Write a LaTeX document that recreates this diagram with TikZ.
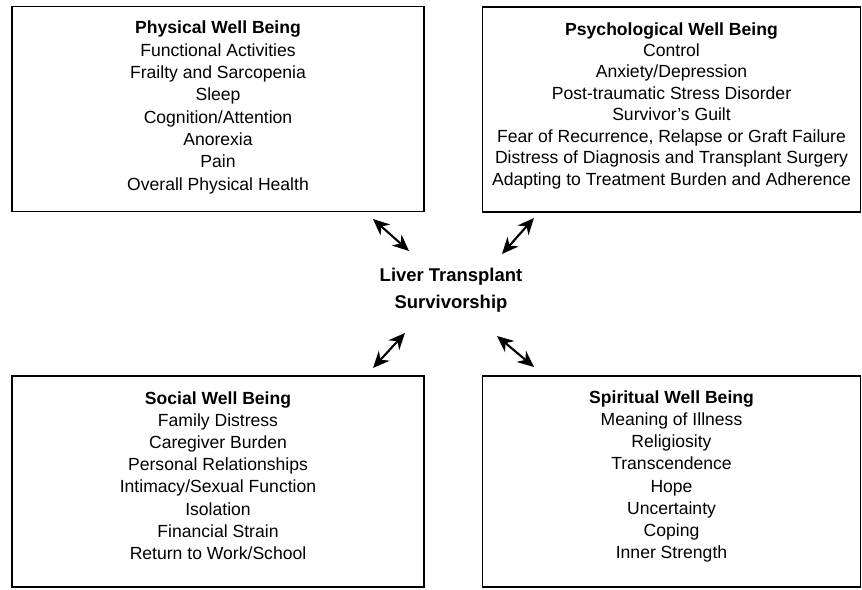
\documentclass[tikz,border=0pt]{standalone}
\usepackage{fontspec}
\setmainfont{Liberation Sans}
\usetikzlibrary{arrows.meta}

\begin{document}
\begin{tikzpicture}[
    domainbox/.style={draw, line width=0.8pt, inner sep=0pt},
    boxtext/.style={align=center, inner sep=0pt},
    hub/.style={align=center, font=\fontsize{10.5}{15.3}\selectfont\bfseries},
    link/.style={line width=1.2pt, {Stealth[length=3.3mm,width=2.9mm]}-{Stealth[length=3.3mm,width=2.9mm]}}
]
    % --- SETTINGS ---
    \def\Wl{8.24}  % width of the left boxes
    \def\Wr{7.56}  % width of the right boxes
    \def\Ht{4.10}  % height of the top boxes
    \def\Hb{4.22}  % height of the bottom boxes

    \useasboundingbox (0,0) rectangle (17.24,-11.78);

    % --- TOP ROW ---
    \node[domainbox, minimum width=\Wl cm, minimum height=\Ht cm] (physical) at (4.36,-2.18) {};
    \node[boxtext, font=\fontsize{10}{12.7}\selectfont] (physical-list) at ([yshift=0.03cm]physical.center)
        {\textbf{Physical Well Being}\\Functional Activities\\Frailty and Sarcopenia\\Sleep\\
         Cognition/Attention\\Anorexia\\Pain\\Overall Physical Health};

    \node[domainbox, minimum width=\Wr cm, minimum height=\Ht cm] (psycho) at (13.43,-2.19) {};
    \node[boxtext, font=\fontsize{10}{12.2}\selectfont] (psycho-list) at ([yshift=0.08cm]psycho.center)
        {\textbf{Psychological Well Being}\\Control\\Anxiety/Depression\\
         Post-traumatic Stress Disorder\\Survivor's Guilt\\
         Fear of Recurrence, Relapse or Graft Failure\\
         Distress of Diagnosis and Transplant Surgery\\
         Adapting to Treatment Burden and Adherence};

    % --- BOTTOM ROW ---
    \node[domainbox, minimum width=\Wl cm, minimum height=\Hb cm] (social) at (4.36,-9.63) {};
    \node[boxtext, font=\fontsize{10}{12.6}\selectfont] (social-list) at ([yshift=0.12cm]social.center)
        {\textbf{Social Well Being}\\Family Distress\\Caregiver Burden\\Personal Relationships\\
         Intimacy/Sexual Function\\Isolation\\Financial Strain\\Return to Work/School};

    \node[domainbox, minimum width=\Wr cm, minimum height=\Hb cm] (spiritual) at (13.43,-9.63) {};
    \node[boxtext, font=\fontsize{10}{12.6}\selectfont] (spiritual-list) at ([yshift=0.10cm]spiritual.center)
        {\textbf{Spiritual Well Being}\\Meaning of Illness\\Religiosity\\Transcendence\\
         Hope\\Uncertainty\\Coping\\Inner Strength};

    % --- CENTRE ---
    \node[hub] (survivorship) at (9.02,-5.80) {Liver Transplant\\Survivorship};

    % --- ARROWS ---
    \coordinate (pA) at (7.46,-4.38);  \coordinate (pB) at (8.18,-5.02);
    \coordinate (qA) at (10.68,-4.36); \coordinate (qB) at (10.04,-5.08);
    \coordinate (sA) at (8.10,-6.66);  \coordinate (sB) at (7.46,-7.36);
    \coordinate (rA) at (9.94,-6.72);  \coordinate (rB) at (10.68,-7.34);

    \draw[link] (pA) -- (pB);
    \draw[link] (qA) -- (qB);
    \draw[link] (sA) -- (sB);
    \draw[link] (rA) -- (rB);

\end{tikzpicture}
\end{document}
